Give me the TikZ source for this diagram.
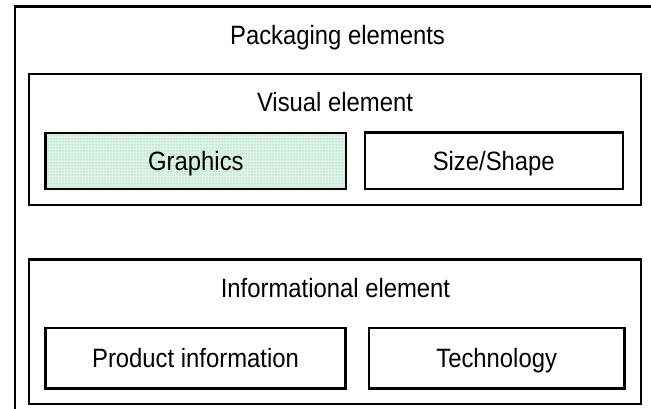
\documentclass[tikz,border=0pt]{standalone}
\usepackage{fontspec}
\setmainfont{Liberation Sans}[FakeStretch=0.9]
\usetikzlibrary{patterns}
\definecolor{dotgreen}{RGB}{100,200,140}
\definecolor{bggreen}{RGB}{222,243,230}
\begin{document}
\begin{tikzpicture}[x=1pt,y=-1pt,
  txt/.style={font=\fontsize{26.5}{31}\selectfont},
  frame/.style={draw=black,line width=2.3pt,inner sep=0pt},
  box/.style={draw=black,line width=2.3pt,inner sep=0pt,text height=19.4pt,text depth=0pt,txt},
  lbl/.style={anchor=base,inner sep=0pt,txt}]
\useasboundingbox (0,0) rectangle (651,409);
\clip (0,0) rectangle (651,409);
\node[frame,line width=2.7pt,minimum width=680pt,minimum height=440pt,anchor=north west] (outer) at (13.7,5.3) {};
\node[lbl] (pk) at (337.5,45) {Packaging elements};
\node[frame,minimum width=612.5pt,minimum height=130.9pt] (vis) at (335.05,139.25) {};
\node[lbl] (vislbl) at (335,111.5) {Visual element};
\node[box,minimum width=300.6pt,minimum height=56.2pt,preaction={fill=bggreen},pattern=dots,pattern color=dotgreen] (gr) at (195.9,161.1) {Graphics};
\node[box,minimum width=258.1pt,minimum height=56.7pt] (ss) at (493.75,160.85) {Size/Shape};
\node[frame,minimum width=612.5pt,minimum height=144.5pt] (info) at (335.05,331.75) {};
\node[lbl] (infolbl) at (335.5,297.5) {Informational element};
\node[box,minimum width=300pt,minimum height=60.7pt] (pi) at (195.5,358.15) {Product information};
\node[box,minimum width=255.7pt,minimum height=60.7pt] (tech) at (496.65,358.15) {Technology};
\end{tikzpicture}
\end{document}
